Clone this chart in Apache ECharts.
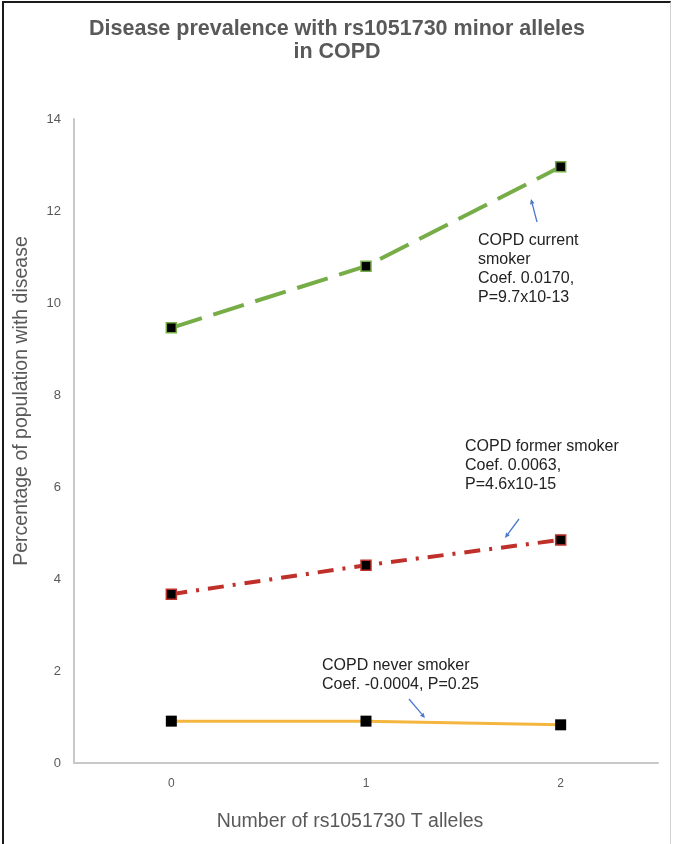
<!DOCTYPE html>
<html>
<head>
<meta charset="utf-8">
<script src="https://cdn.jsdelivr.net/npm/echarts@6/dist/echarts.min.js"></script>
<style>
html,body{margin:0;padding:0;background:#fff;}
#wrap{position:relative;width:674px;height:844px;}
#chart{width:674px;height:844px;}
#frame{position:absolute;left:2px;top:1px;width:666px;height:850px;border-left:2px solid #1a1a1a;border-top:2px solid #1a1a1a;border-right:1px solid #d0d0d0;pointer-events:none;}
</style>
</head>
<body>
<div id="wrap"><div id="chart"></div><div id="frame"></div></div>
<script>
// ---- data ----
const categories = ['0', '1', '2'];
const currentSmoker = [9.46, 10.80, 12.96];
const formerSmoker = [3.67, 4.30, 4.85];
const neverSmoker = [0.91, 0.91, 0.83];
const yTicks = { min: 0, max: 14, interval: 2 };

const titleText = 'Disease prevalence with rs1051730 minor alleles\nin COPD';
const xName = 'Number of rs1051730 T alleles';
const yName = 'Percentage of population with disease';

const noteCurrent = ['COPD current', 'smoker', 'Coef. 0.0170,', 'P=9.7x10-13'];
const noteFormer = ['COPD former smoker', 'Coef. 0.0063,', 'P=4.6x10-15'];
const noteNever = ['COPD never smoker', 'Coef. -0.0004, P=0.25'];

// annotation layout (text anchors and arrow tail/head, px)
const notes = [
  { lines: noteCurrent, x: 478, y: 231, tail: [537, 222], head: [531, 199] },
  { lines: noteFormer, x: 465, y: 437, tail: [519, 519], head: [505, 538] },
  { lines: noteNever, x: 322, y: 656, tail: [409, 699], head: [425, 718] }
];

const chart = echarts.init(document.getElementById('chart'), null, { renderer: 'canvas' });
const FONT = '"Liberation Sans", Arial, Helvetica, sans-serif';

function arrowGraphics(n) {
  const [tx, ty] = n.tail, [hx, hy] = n.head;
  const dx = hx - tx, dy = hy - ty, L = Math.hypot(dx, dy);
  const ux = dx / L, uy = dy / L, px = -uy, py = ux;
  const hl = 5, hw = 2.3;
  const bx = hx - ux * hl, by = hy - uy * hl;
  return [
    { type: 'line', shape: { x1: tx, y1: ty, x2: bx, y2: by }, style: { stroke: '#4a78cf', lineWidth: 1.3 }, silent: true },
    { type: 'polygon', shape: { points: [[hx, hy], [bx + px * hw, by + py * hw], [bx - px * hw, by - py * hw]] }, style: { fill: '#4a78cf' }, silent: true }
  ];
}

const graphics = [];
notes.forEach(n => {
  graphics.push({
    type: 'text', left: n.x, top: n.y, silent: true,
    style: { text: n.lines.join('\n'), font: '16px ' + FONT, fill: '#222', lineHeight: 19 }
  });
  arrowGraphics(n).forEach(g => graphics.push(g));
});

const option = {
  backgroundColor: '#fff',
  animation: false,
  title: {
    text: titleText, left: 'center', top: 13,
    textStyle: { fontFamily: FONT, fontWeight: 'bold', fontSize: 21.5, color: '#595959', lineHeight: 23, align: 'center' }
  },
  grid: { left: 74, right: 16, top: 119, bottom: 81, containLabel: false },
  xAxis: {
    type: 'category', data: categories, boundaryGap: true,
    name: xName, nameLocation: 'middle', nameGap: 49,
    nameTextStyle: { fontFamily: FONT, fontSize: 19.5, color: '#595959', padding: [0, 32, 0, 0] },
    axisLine: { lineStyle: { color: '#c8c8c8', width: 2 } },
    axisTick: { show: false },
    axisLabel: { fontFamily: FONT, fontSize: 12, color: '#595959', margin: 15 },
    splitLine: { show: false }
  },
  yAxis: {
    type: 'value', min: yTicks.min, max: yTicks.max, interval: yTicks.interval,
    name: yName, nameLocation: 'middle', nameGap: 42,
    nameTextStyle: { fontFamily: FONT, fontSize: 19.5, color: '#595959', padding: [0, 0, 0, 80] },
    axisLine: { show: true, lineStyle: { color: '#c8c8c8', width: 2 } },
    axisTick: { show: false },
    axisLabel: { fontFamily: FONT, fontSize: 13, color: '#595959', margin: 13 },
    splitLine: { show: false }
  },
  series: [
    {
      name: 'COPD current smoker', type: 'line', data: currentSmoker,
      symbol: 'rect', symbolSize: 10,
      lineStyle: { color: '#77ad47', width: 4, type: [32, 12], cap: 'butt' },
      itemStyle: { color: '#000', borderColor: '#77ad47', borderWidth: 1.5 },
      z: 3
    },
    {
      name: 'COPD former smoker', type: 'line', data: formerSmoker,
      symbol: 'rect', symbolSize: 10,
      lineStyle: { color: '#c0302a', width: 4, type: [16, 9, 3, 9], cap: 'butt' },
      itemStyle: { color: '#000', borderColor: '#c0302a', borderWidth: 1.5 },
      z: 3
    },
    {
      name: 'COPD never smoker', type: 'line', data: neverSmoker,
      symbol: 'rect', symbolSize: 11,
      lineStyle: { color: '#f4b63f', width: 3, type: 'solid' },
      itemStyle: { color: '#000', borderColor: '#000', borderWidth: 0 },
      z: 3
    }
  ],
  graphic: graphics
};
chart.setOption(option);
</script>
</body>
</html>
